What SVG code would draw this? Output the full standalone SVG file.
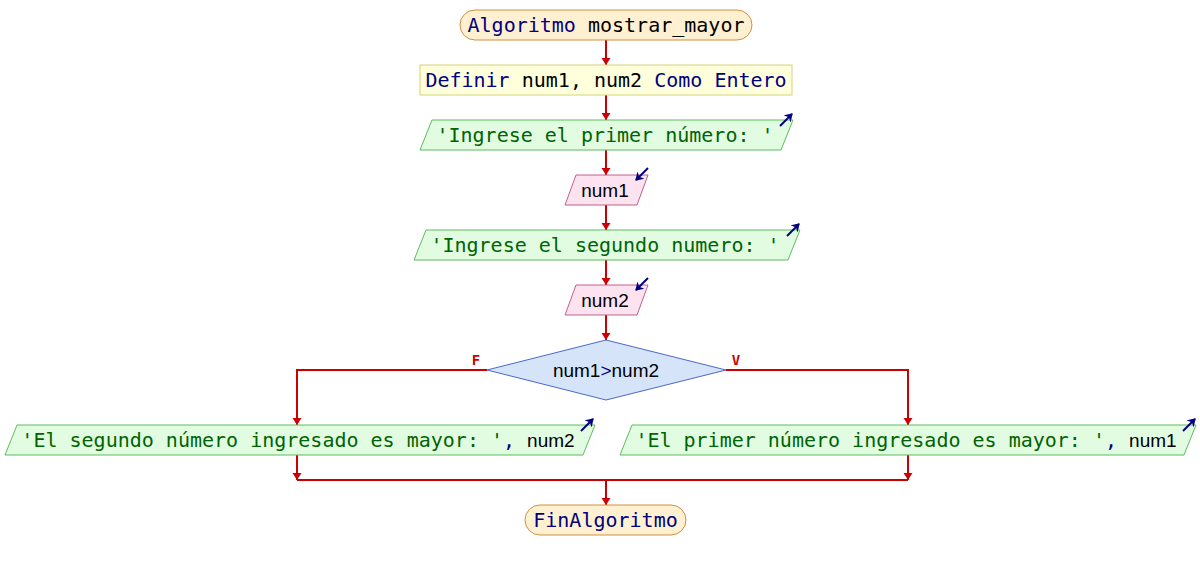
<svg xmlns="http://www.w3.org/2000/svg" width="1200" height="570" viewBox="0 0 1200 570">
  <style>
    .mono { font-family: "DejaVu Sans Mono", "Liberation Mono", monospace; font-size: 20px; }
    .sans { font-family: "Liberation Sans", Arial, sans-serif; font-size: 19px; fill: #000000; }
    .kw { fill: #000080; }
    .id { fill: #000000; }
    .str { fill: #006400; }
    .term { fill: #fff0d2; stroke: #d0903c; stroke-width: 1; }
    .def { fill: #ffffdc; stroke: #d4d47c; stroke-width: 1; }
    .out { fill: #e2fce2; stroke: #5cbc5c; stroke-width: 1; }
    .inp { fill: #fde2f0; stroke: #c0608c; stroke-width: 1; }
    .dec { fill: #d6e4fa; stroke: #4a68c8; stroke-width: 1; }
    .flow { fill: none; stroke: #cc0000; stroke-width: 2; }
    .flowa { fill: none; stroke: #cc0000; stroke-width: 2; marker-end: url(#arrow); }
    .io { fill: none; stroke: #000080; stroke-width: 2; marker-end: url(#ioarrow); }
    .lbl { font-family: "DejaVu Sans Mono", "Liberation Mono", monospace; font-size: 14px; font-weight: bold; fill: #cc0000; text-anchor: middle; }
  </style>
  <defs>
    <marker id="arrow" viewBox="0 0 7 10" refX="7" refY="5" markerWidth="7" markerHeight="10" markerUnits="userSpaceOnUse" orient="auto">
      <path d="M0,0.5 L7,5 L0,9.5 z" fill="#cc0000"/>
    </marker>
    <marker id="ioarrow" viewBox="0 0 8 10" refX="7" refY="5" markerWidth="8" markerHeight="10" markerUnits="userSpaceOnUse" orient="auto">
      <path d="M0,0 L8,5 L0,10 L2.5,5 z" fill="#000080"/>
    </marker>
  </defs>

  <!-- connectors -->
  <g id="connectors">
    <line class="flowa" x1="606" y1="40" x2="606" y2="65"/>
    <line class="flowa" x1="606" y1="95" x2="606" y2="120"/>
    <line class="flowa" x1="606" y1="150" x2="606" y2="175"/>
    <line class="flowa" x1="606" y1="205" x2="606" y2="230"/>
    <line class="flowa" x1="606" y1="260" x2="606" y2="285"/>
    <line class="flowa" x1="606" y1="315" x2="606" y2="340"/>
    <polyline class="flowa" points="487,370 297,370 297,425"/>
    <polyline class="flowa" points="726,370 908,370 908,425"/>
    <line class="flowa" x1="297" y1="455" x2="297" y2="480"/>
    <line class="flowa" x1="908" y1="455" x2="908" y2="480"/>
    <line class="flow" x1="297" y1="480" x2="908" y2="480"/>
    <line class="flowa" x1="606" y1="480" x2="606" y2="505"/>
    <text class="lbl" x="476" y="365">F</text>
    <text class="lbl" x="736" y="365">V</text>
  </g>

  <!-- start -->
  <g id="start">
    <rect class="term" x="460" y="10" width="292" height="30" rx="15" ry="15"/>
    <text class="mono" x="606" y="32" text-anchor="middle"><tspan class="kw">Algoritmo</tspan><tspan class="id"> mostrar_mayor</tspan></text>
  </g>

  <!-- variable definition -->
  <g id="define">
    <rect class="def" x="420" y="65" width="372" height="30"/>
    <text class="mono" x="606" y="87" text-anchor="middle"><tspan class="kw">Definir</tspan><tspan class="id"> num1, num2 </tspan><tspan class="kw">Como Entero</tspan></text>
  </g>

  <!-- prompt 1 -->
  <g id="prompt1">
    <polygon class="out" points="432,120 793,120 781,150 420,150"/>
    <text class="mono str" x="605" y="142" text-anchor="middle">'Ingrese el primer número: '</text>
    <line class="io" x1="780" y1="126" x2="792" y2="114"/>
  </g>

  <!-- read num1 -->
  <g id="read1">
    <polygon class="inp" points="576,175 648,175 637,205 565,205"/>
    <text class="sans" x="605" y="197" text-anchor="middle">num1</text>
    <line class="io" x1="648" y1="168" x2="636" y2="180"/>
  </g>

  <!-- prompt 2 -->
  <g id="prompt2">
    <polygon class="out" points="426,230 800,230 788,260 414,260"/>
    <text class="mono str" x="605" y="252" text-anchor="middle">'Ingrese el segundo numero: '</text>
    <line class="io" x1="787" y1="236" x2="799" y2="224"/>
  </g>

  <!-- read num2 -->
  <g id="read2">
    <polygon class="inp" points="576,285 648,285 637,315 565,315"/>
    <text class="sans" x="605" y="307" text-anchor="middle">num2</text>
    <line class="io" x1="648" y1="278" x2="636" y2="290"/>
  </g>

  <!-- decision -->
  <g id="decision">
    <polygon class="dec" points="606,340 726,370 606,400 487,370"/>
    <text class="sans" x="606" y="377" text-anchor="middle">num1<tspan class="kw">&gt;</tspan>num2</text>
  </g>

  <!-- false branch output -->
  <g id="out_false">
    <polygon class="out" points="17,425 595,425 583,455 5,455"/>
    <text x="298" y="447" text-anchor="middle"><tspan class="mono str">'El segundo número ingresado es mayor: '</tspan><tspan class="mono kw">, </tspan><tspan class="sans">num2</tspan></text>
    <line class="io" x1="581" y1="431" x2="593" y2="419"/>
  </g>

  <!-- true branch output -->
  <g id="out_true">
    <polygon class="out" points="632,425 1196,425 1184,455 620,455"/>
    <text x="906" y="447" text-anchor="middle"><tspan class="mono str">'El primer número ingresado es mayor: '</tspan><tspan class="mono kw">, </tspan><tspan class="sans">num1</tspan></text>
    <line class="io" x1="1183" y1="431" x2="1195" y2="419"/>
  </g>

  <!-- end -->
  <g id="end">
    <rect class="term" x="525" y="505" width="161" height="30" rx="15" ry="15"/>
    <text class="mono kw" x="605.5" y="527" text-anchor="middle">FinAlgoritmo</text>
  </g>
</svg>
